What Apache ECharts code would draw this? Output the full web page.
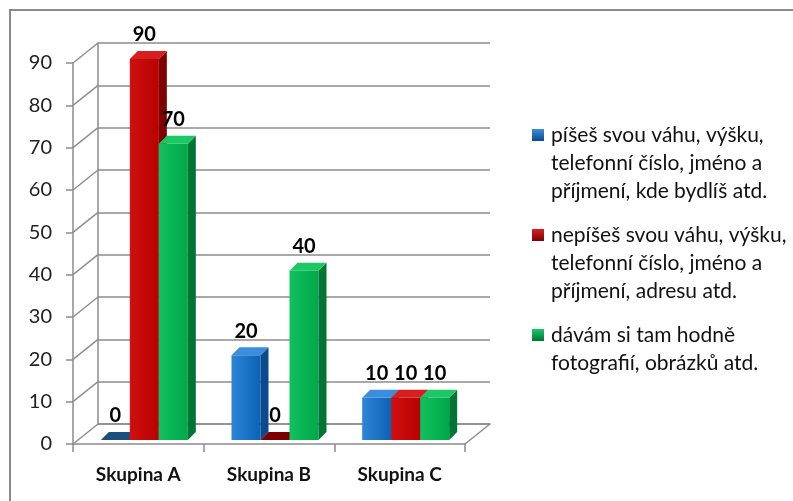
<!DOCTYPE html>
<html>
<head>
<meta charset="utf-8">
<script src="https://cdn.jsdelivr.net/npm/echarts@6/dist/echarts.min.js"></script>
<style>
html,body{margin:0;padding:0;background:#fff;}
#chart{width:793px;height:501px;}
</style>
</head>
<body>
<div id="chart"></div>
<script>
// ---- data ----
var categories = ['Skupina A', 'Skupina B', 'Skupina C'];
var seriesNames = [
  'píšeš svou váhu, výšku, telefonní číslo, jméno a příjmení, kde bydlíš atd.',
  'nepíšeš svou váhu, výšku, telefonní číslo, jméno a příjmení, adresu atd.',
  'dávám si tam hodně fotografií, obrázků atd.'
];
var legendLines = [
  ['píšeš svou váhu, výšku,', 'telefonní číslo, jméno a', 'příjmení, kde bydlíš atd.'],
  ['nepíšeš svou váhu, výšku,', 'telefonní číslo, jméno a', 'příjmení, adresu atd.'],
  ['dávám si tam hodně', 'fotografií, obrázků atd.']
];
var valuesBlue = [0, 20, 10];
var valuesRed = [90, 0, 10];
var valuesGreen = [70, 40, 10];
var yTicks = [0, 10, 20, 30, 40, 50, 60, 70, 80, 90];

// ---- style ----
var FONT = 'Lato';
var GRID_COLOR = '#8c8c8c';
var WALL_DX = 25, WALL_DY = -20;   // 3D wall offset
var BAR_DX = 6, BAR_DY = -4;       // bar position inside depth
var DEP_X = 8, DEP_Y = -8;         // bar box depth
var BAR_W = 29;
var palettes = [
  {front: ['#2f86d8', '#0a62b4'], side: '#0b4b8c', top: '#3a8edc', zero: '#1d4f7c'},
  {front: ['#d01010', '#b80000'], side: '#7e0000', top: '#d62020', zero: '#7a0000'},
  {front: ['#12c05c', '#00a84a'], side: '#007536', top: '#1cc866', zero: '#00753a'}
];
var allValues = [valuesBlue, valuesRed, valuesGreen];

function barRender(sIdx) {
  return function (params, api) {
    var cat = api.value(0), val = api.value(1);
    var base = api.coord([cat, 0]);
    var top = api.coord([cat, val]);
    var groupW = BAR_W * 3;
    var x0 = base[0] - groupW / 2 + sIdx * BAR_W + BAR_DX;
    var yB = base[1] + BAR_DY;
    var yT = top[1] + BAR_DY;
    var p = palettes[sIdx];
    var children = [];
    if (val > 0) {
      children.push({
        type: 'rect',
        shape: {x: x0, y: yT, width: BAR_W, height: yB - yT},
        style: {fill: new echarts.graphic.LinearGradient(0, 0, 1, 0, [
          {offset: 0, color: p.front[0]}, {offset: 1, color: p.front[1]}])}
      });
      children.push({
        type: 'polygon',
        shape: {points: [[x0 + BAR_W, yT], [x0 + BAR_W + DEP_X, yT + DEP_Y],
                         [x0 + BAR_W + DEP_X, yB + DEP_Y], [x0 + BAR_W, yB]]},
        style: {fill: p.side}
      });
    }
    children.push({
      type: 'polygon',
      shape: {points: [[x0, yT], [x0 + DEP_X, yT + DEP_Y],
                       [x0 + BAR_W + DEP_X, yT + DEP_Y], [x0 + BAR_W, yT]]},
      style: {fill: val > 0 ? p.top : p.zero}
    });
    children.push({
      type: 'text',
      style: {
        text: String(val), x: x0 + BAR_W / 2, y: yT - 24,
        align: 'center', verticalAlign: 'middle',
        font: 'bold 20px ' + FONT, fill: '#000'
      }
    });
    return {type: 'group', children: children};
  };
}

function wallRender(params, api) {
  var v = api.value(0);
  var cs = params.coordSys;
  var p = api.coord([0, v]);
  var x = cs.x;
  var lines = [{
    type: 'line',
    shape: {x1: x, y1: p[1], x2: x + WALL_DX, y2: p[1] + WALL_DY},
    style: {stroke: GRID_COLOR, lineWidth: 1.5}
  }];
  if (v === 0) {
    var xr = cs.x + cs.width;
    lines.push({
      type: 'line',
      shape: {x1: xr, y1: p[1], x2: xr + WALL_DX, y2: p[1] + WALL_DY},
      style: {stroke: GRID_COLOR, lineWidth: 1.5}
    });
  }
  return {type: 'group', children: lines};
}

var series = [];
for (var s = 0; s < 3; s++) {
  series.push({
    name: seriesNames[s],
    type: 'custom',
    xAxisIndex: 0, yAxisIndex: 0,
    renderItem: barRender(s),
    itemStyle: {color: palettes[s].front[1]},
    data: allValues[s].map(function (v, i) { return [i, v]; }),
    z: 10
  });
}
series.push({
  type: 'custom',
  xAxisIndex: 0, yAxisIndex: 0,
  renderItem: wallRender,
  data: yTicks.map(function (t) { return [t]; }),
  encode: {y: 0},
  silent: true,
  z: 1
});

var rich = {
  t: {fontFamily: FONT, fontSize: 21, lineHeight: 28, color: '#111'},
  ind: {width: 19, height: 12},
  gp: {width: 7, height: 12}
};
palettes.forEach(function (p, i) {
  rich['sq' + i] = {width: 12, height: 12, backgroundColor: new echarts.graphic.LinearGradient(0, 0, 0, 1, [
    {offset: 0, color: p.top}, {offset: 1, color: p.side}])};
});

var option = {
  animation: false,
  backgroundColor: '#fff',
  graphic: [{
    type: 'rect',
    shape: {x: 10, y: 10, width: 900, height: 600},
    style: {fill: 'none', stroke: '#8a8a8a', lineWidth: 2},
    silent: true, z: 0
  }],
  legend: {
    orient: 'vertical',
    left: 522, top: 116,
    icon: 'none',
    itemWidth: 0, itemHeight: 12,
    itemGap: 16,
    data: seriesNames,
    selectedMode: false,
    formatter: function (name) {
      var i = seriesNames.indexOf(name);
      var lines = legendLines[i];
      return lines.map(function (l, k) {
        return (k === 0 ? '{sq' + i + '|}{gp|}' : '{ind|}') + '{t|' + l + '}';
      }).join('\n');
    },
    textStyle: {rich: rich, fontFamily: FONT, fontSize: 21, lineHeight: 28}
  },
  grid: [
    {left: 73, right: 328, top: 63, bottom: 57},
    {left: 98, right: 303, top: 43, bottom: 77}
  ],
  xAxis: [{
    gridIndex: 0, type: 'category', data: categories, boundaryGap: true,
    axisLine: {show: true, lineStyle: {color: GRID_COLOR, width: 1.5}},
    axisTick: {show: true, length: 8, alignWithLabel: false, lineStyle: {color: GRID_COLOR, width: 1.5}},
    axisLabel: {fontFamily: FONT, fontSize: 19, fontWeight: 'bold', color: '#111', margin: 21},
    splitLine: {show: false}
  }, {
    gridIndex: 1, type: 'category', data: categories, boundaryGap: true,
    axisLine: {show: true, lineStyle: {color: GRID_COLOR, width: 1.5}},
    axisTick: {show: false}, axisLabel: {show: false}, splitLine: {show: false}
  }],
  yAxis: [{
    gridIndex: 0, type: 'value', min: 0, max: 90, interval: 10,
    axisLine: {show: true, lineStyle: {color: GRID_COLOR, width: 1.5}},
    axisTick: {show: true, length: 7, lineStyle: {color: GRID_COLOR, width: 1.5}},
    axisLabel: {fontFamily: FONT, fontSize: 20, color: '#222', margin: 21},
    splitLine: {show: false}
  }, {
    gridIndex: 1, type: 'value', min: 0, max: 90, interval: 10,
    axisLine: {show: true, lineStyle: {color: GRID_COLOR, width: 1.5}},
    axisTick: {show: false}, axisLabel: {show: false},
    splitLine: {show: true, lineStyle: {color: GRID_COLOR, width: 1.5}}
  }],
  series: series
};

var chart = echarts.init(document.getElementById('chart'), null, {renderer: 'canvas'});
chart.setOption(option);
</script>
</body>
</html>
